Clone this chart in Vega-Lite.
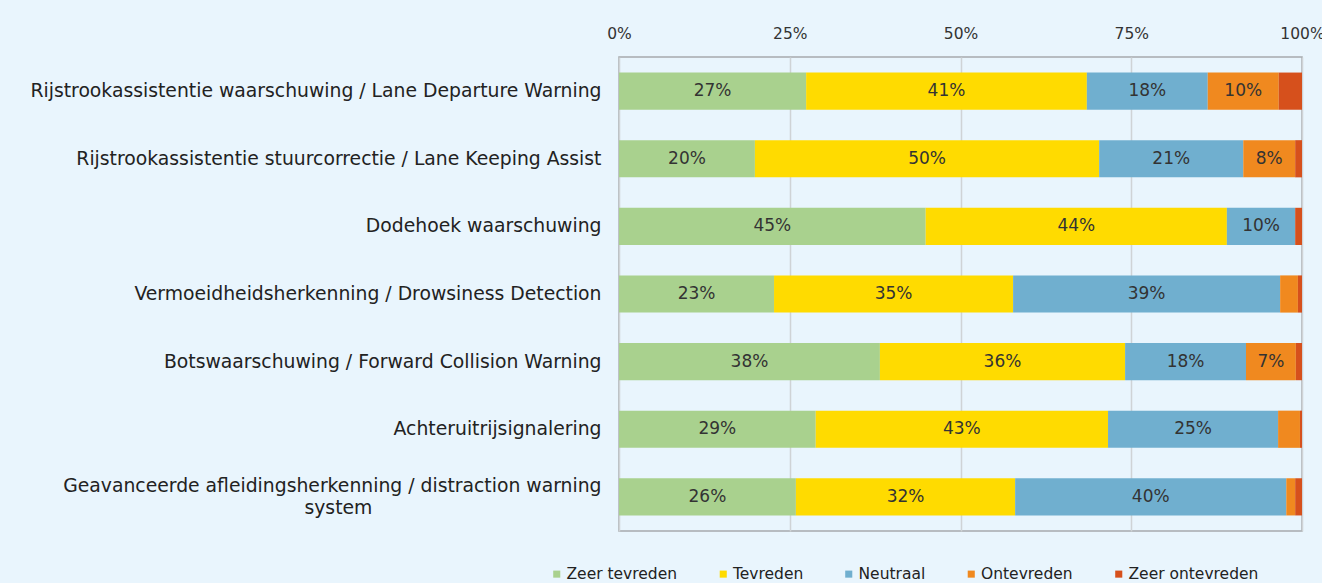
{
  "$schema": "https://vega.github.io/schema/vega-lite/v6.json",
  "width": 683,
  "height": 474,
  "autosize": {"type": "none"},
  "padding": {"left": 619, "top": 57, "right": 20, "bottom": 52},
  "background": "#e9f5fd",
  "config": {
    "font": "DejaVu Sans",
    "view": {"stroke": "#a6a9ad", "strokeWidth": 1.5, "fill": "#e9f5fd"}
  },
  "data": {
    "values": [
      {"cat": "Rijstrookassistentie waarschuwing / Lane Departure Warning", "resp": "Zeer tevreden", "k": 1, "value": 0.274},
      {"cat": "Rijstrookassistentie waarschuwing / Lane Departure Warning", "resp": "Tevreden", "k": 2, "value": 0.411},
      {"cat": "Rijstrookassistentie waarschuwing / Lane Departure Warning", "resp": "Neutraal", "k": 3, "value": 0.177},
      {"cat": "Rijstrookassistentie waarschuwing / Lane Departure Warning", "resp": "Ontevreden", "k": 4, "value": 0.104},
      {"cat": "Rijstrookassistentie waarschuwing / Lane Departure Warning", "resp": "Zeer ontevreden", "k": 5, "value": 0.034},
      {"cat": "Rijstrookassistentie stuurcorrectie / Lane Keeping Assist", "resp": "Zeer tevreden", "k": 1, "value": 0.199},
      {"cat": "Rijstrookassistentie stuurcorrectie / Lane Keeping Assist", "resp": "Tevreden", "k": 2, "value": 0.504},
      {"cat": "Rijstrookassistentie stuurcorrectie / Lane Keeping Assist", "resp": "Neutraal", "k": 3, "value": 0.211},
      {"cat": "Rijstrookassistentie stuurcorrectie / Lane Keeping Assist", "resp": "Ontevreden", "k": 4, "value": 0.076},
      {"cat": "Rijstrookassistentie stuurcorrectie / Lane Keeping Assist", "resp": "Zeer ontevreden", "k": 5, "value": 0.010},
      {"cat": "Dodehoek waarschuwing", "resp": "Zeer tevreden", "k": 1, "value": 0.449},
      {"cat": "Dodehoek waarschuwing", "resp": "Tevreden", "k": 2, "value": 0.441},
      {"cat": "Dodehoek waarschuwing", "resp": "Neutraal", "k": 3, "value": 0.100},
      {"cat": "Dodehoek waarschuwing", "resp": "Ontevreden", "k": 4, "value": 0.0},
      {"cat": "Dodehoek waarschuwing", "resp": "Zeer ontevreden", "k": 5, "value": 0.010},
      {"cat": "Vermoeidheidsherkenning / Drowsiness Detection", "resp": "Zeer tevreden", "k": 1, "value": 0.227},
      {"cat": "Vermoeidheidsherkenning / Drowsiness Detection", "resp": "Tevreden", "k": 2, "value": 0.350},
      {"cat": "Vermoeidheidsherkenning / Drowsiness Detection", "resp": "Neutraal", "k": 3, "value": 0.391},
      {"cat": "Vermoeidheidsherkenning / Drowsiness Detection", "resp": "Ontevreden", "k": 4, "value": 0.026},
      {"cat": "Vermoeidheidsherkenning / Drowsiness Detection", "resp": "Zeer ontevreden", "k": 5, "value": 0.006},
      {"cat": "Botswaarschuwing / Forward Collision Warning", "resp": "Zeer tevreden", "k": 1, "value": 0.382},
      {"cat": "Botswaarschuwing / Forward Collision Warning", "resp": "Tevreden", "k": 2, "value": 0.359},
      {"cat": "Botswaarschuwing / Forward Collision Warning", "resp": "Neutraal", "k": 3, "value": 0.177},
      {"cat": "Botswaarschuwing / Forward Collision Warning", "resp": "Ontevreden", "k": 4, "value": 0.073},
      {"cat": "Botswaarschuwing / Forward Collision Warning", "resp": "Zeer ontevreden", "k": 5, "value": 0.009},
      {"cat": "Achteruitrijsignalering", "resp": "Zeer tevreden", "k": 1, "value": 0.288},
      {"cat": "Achteruitrijsignalering", "resp": "Tevreden", "k": 2, "value": 0.428},
      {"cat": "Achteruitrijsignalering", "resp": "Neutraal", "k": 3, "value": 0.249},
      {"cat": "Achteruitrijsignalering", "resp": "Ontevreden", "k": 4, "value": 0.032},
      {"cat": "Achteruitrijsignalering", "resp": "Zeer ontevreden", "k": 5, "value": 0.003},
      {"cat": "Geavanceerde afleidingsherkenning / distraction warning system", "resp": "Zeer tevreden", "k": 1, "value": 0.259},
      {"cat": "Geavanceerde afleidingsherkenning / distraction warning system", "resp": "Tevreden", "k": 2, "value": 0.321},
      {"cat": "Geavanceerde afleidingsherkenning / distraction warning system", "resp": "Neutraal", "k": 3, "value": 0.397},
      {"cat": "Geavanceerde afleidingsherkenning / distraction warning system", "resp": "Ontevreden", "k": 4, "value": 0.013},
      {"cat": "Geavanceerde afleidingsherkenning / distraction warning system", "resp": "Zeer ontevreden", "k": 5, "value": 0.010}
    ]
  },
  "transform": [
    {"stack": "value", "groupby": ["cat"], "sort": [{"field": "k", "order": "ascending"}], "as": ["v0", "v1"]},
    {"calculate": "(datum.v0 + datum.v1) / 2", "as": "mid"}
  ],
  "encoding": {
    "y": {
      "field": "cat",
      "type": "nominal",
      "sort": null,
      "scale": {"paddingInner": 0.45, "paddingOuter": 0.23},
      "axis": {
        "title": null,
        "domain": false,
        "ticks": false,
        "labelFontSize": 18.8,
        "labelColor": "#222222",
        "labelPadding": 18,
        "labelLimit": 700,
        "labelLineHeight": 22,
        "labelOffset": {"condition": {"test": "indexof(datum.label, 'Geavanceerde') == 0", "value": -11}, "value": 0},
        "labelExpr": "indexof(datum.label, 'Geavanceerde') == 0 ? ['Geavanceerde afleidingsherkenning / distraction warning', 'system\u2003\u2003\u2003\u2003\u2003\u2003\u2003\u2003\u2003\u2003\u2003\u2003\u2009\u200b'] : datum.label"
      }
    }
  },
  "layer": [
    {
      "mark": {"type": "bar"},
      "encoding": {
        "x": {
          "field": "v0",
          "type": "quantitative",
          "scale": {"domain": [0, 1], "nice": false},
          "axis": {
            "orient": "top",
            "title": null,
            "values": [0, 0.25, 0.5, 0.75, 1],
            "format": ".0%",
            "domain": false,
            "ticks": false,
            "labelFlush": false,
            "labelPadding": 16,
            "labelFontSize": 15.5,
            "labelColor": "#333333",
            "gridColor": "#cfd3d6",
            "gridWidth": 1.5
          }
        },
        "x2": {"field": "v1"},
        "color": {
          "field": "resp",
          "type": "nominal",
          "scale": {
            "domain": ["Zeer tevreden", "Tevreden", "Neutraal", "Ontevreden", "Zeer ontevreden"],
            "range": ["#a9d18e", "#ffdb00", "#70afcf", "#f0891f", "#d6501c"]
          },
          "legend": {
            "title": null,
            "orient": "none",
            "legendX": -70,
            "legendY": 509,
            "direction": "horizontal",
            "columns": 5,
            "symbolType": "square",
            "symbolSize": 50,
            "symbolStrokeWidth": 0,
            "labelFontSize": 15.5,
            "labelColor": "#222222",
            "labelOffset": 2,
            "columnPadding": 37.5
          }
        }
      }
    },
    {
      "transform": [{"filter": "datum.value >= 0.05"}],
      "mark": {"type": "text", "fontSize": 17, "color": "#333333", "baseline": "middle"},
      "encoding": {
        "x": {"field": "mid", "type": "quantitative"},
        "text": {"field": "value", "type": "quantitative", "format": ".0%"}
      }
    }
  ]
}
